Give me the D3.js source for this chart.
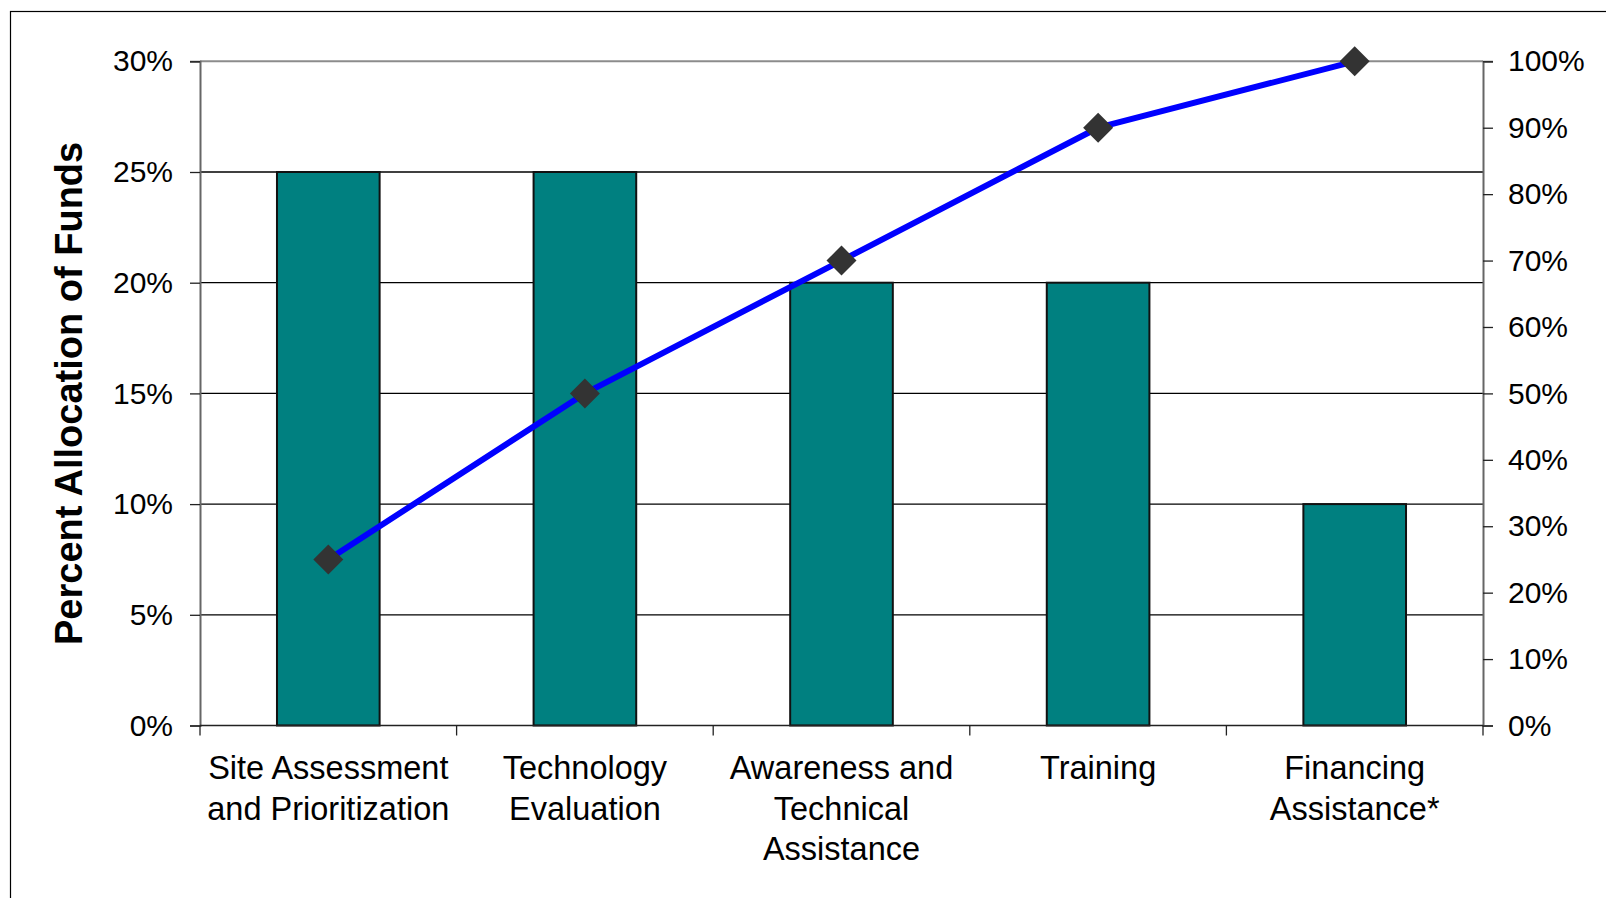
<!DOCTYPE html>
<html>
<head>
<meta charset="utf-8">
<script src="https://cdnjs.cloudflare.com/ajax/libs/d3/7.8.5/d3.min.js"></script>
<style>
	html, body { margin: 0; padding: 0; background: #fff; }
	svg { display: block; font-family: Arial, "Liberation Sans", sans-serif; }
</style>
</head>
<body>
<div id="chart"></div>
<script>
// chart data
var categories = [
	["Site Assessment", "and Prioritization"],
	["Technology", "Evaluation"],
	["Awareness and", "Technical", "Assistance"],
	["Training"],
	["Financing", "Assistance*"]
];
var allocation = [25, 25, 20, 20, 10];      // left axis, percent
var cumulative = [25, 50, 70, 90, 100];     // right axis, percent
var leftTicks = [0, 5, 10, 15, 20, 25, 30];
var rightTicks = [0, 10, 20, 30, 40, 50, 60, 70, 80, 90, 100];

var width = 1606, height = 898;
var plotLeft = 200, plotRight = 1483,
	plotTop = 61.3, plotBottom = 725.5;

var svg = d3.select("#chart").append("svg")
	.attr("width", width)
	.attr("height", height);

// outer chart frame (runs off right/bottom edge)
svg.append("rect")
	.attr("x", 10.5).attr("y", 11.5)
	.attr("width", width + 20).attr("height", height + 20)
	.attr("fill", "#fff")
	.attr("stroke", "#000")
	.attr("stroke-width", 1.2);

var idx = d3.range(categories.length);

var x = d3.scaleBand()
	.domain(idx)
	.range([plotLeft, plotRight])
	.paddingInner(0.6)
	.paddingOuter(0.3);

var yLeft = d3.scaleLinear().domain([0, 30]).range([plotBottom, plotTop]);
var yRight = d3.scaleLinear().domain([0, 100]).range([plotBottom, plotTop]);

// gridlines
svg.append("g")
	.selectAll("line")
	.data(leftTicks.filter(function(d) { return d > 0 && d < 30; }))
	.enter().append("line")
	.attr("x1", plotLeft).attr("x2", plotRight)
	.attr("y1", function(d) { return yLeft(d); })
	.attr("y2", function(d) { return yLeft(d); })
	.attr("stroke", "#000")
	.attr("stroke-width", 1.3);

// plot area border (top) in gray
svg.append("line")
	.attr("x1", plotLeft).attr("x2", plotRight)
	.attr("y1", plotTop).attr("y2", plotTop)
	.attr("stroke", "#8c8c8c")
	.attr("stroke-width", 2);

// bars
svg.append("g")
	.selectAll("rect")
	.data(allocation)
	.enter().append("rect")
	.attr("x", function(d, i) { return x(i); })
	.attr("y", function(d) { return yLeft(d); })
	.attr("width", x.bandwidth())
	.attr("height", function(d) { return plotBottom - yLeft(d); })
	.attr("fill", "#008080")
	.attr("stroke", "#111")
	.attr("stroke-width", 2);

// left axis
var leftAxis = d3.axisLeft(yLeft)
	.tickValues(leftTicks)
	.tickSize(10)
	.tickPadding(17)
	.tickFormat(function(d) { return d + "%"; });

var gl = svg.append("g")
	.attr("transform", "translate(" + plotLeft + ",0)")
	.call(leftAxis);
gl.select(".domain").attr("stroke", "#666").attr("stroke-width", 2);
gl.selectAll(".tick line").attr("stroke", "#222").attr("stroke-width", 1.3);
gl.selectAll(".tick text")
	.attr("font-size", 30)
	.attr("font-family", "Arial, 'Liberation Sans', sans-serif")
	.attr("fill", "#000");

// right axis
var rightAxis = d3.axisRight(yRight)
	.tickValues(rightTicks)
	.tickSize(10)
	.tickPadding(15)
	.tickFormat(function(d) { return d + "%"; });

var gr = svg.append("g")
	.attr("transform", "translate(" + plotRight + ",0)")
	.call(rightAxis);
gr.select(".domain").attr("stroke", "#666").attr("stroke-width", 2);
gr.selectAll(".tick line").attr("stroke", "#222").attr("stroke-width", 1.3);
gr.selectAll(".tick text")
	.attr("font-size", 30)
	.attr("font-family", "Arial, 'Liberation Sans', sans-serif")
	.attr("fill", "#000");

// bottom axis: line + ticks between categories
var xEdges = d3.scaleLinear().domain([0, categories.length]).range([plotLeft, plotRight]);
svg.append("line")
	.attr("x1", plotLeft).attr("x2", plotRight)
	.attr("y1", plotBottom).attr("y2", plotBottom)
	.attr("stroke", "#222")
	.attr("stroke-width", 1.6);
svg.append("g")
	.selectAll("line")
	.data(d3.range(categories.length + 1))
	.enter().append("line")
	.attr("x1", function(d) { return xEdges(d); })
	.attr("x2", function(d) { return xEdges(d); })
	.attr("y1", plotBottom).attr("y2", plotBottom + 10)
	.attr("stroke", "#222")
	.attr("stroke-width", 1.3);

// category labels
var labels = svg.append("g")
	.selectAll("text")
	.data(categories)
	.enter().append("text")
	.attr("text-anchor", "middle")
	.attr("font-size", 32.5)
	.attr("fill", "#000")
	.attr("transform", function(d, i) {
		return "translate(" + (x(i) + x.bandwidth() / 2) + ",779)";
	});
labels.selectAll("tspan")
	.data(function(d) { return d; })
	.enter().append("tspan")
	.attr("x", 0)
	.attr("y", function(d, j) { return j * 40.5; })
	.text(function(d) { return d; });

// cumulative line
var line = d3.line()
	.x(function(d, i) { return x(i) + x.bandwidth() / 2; })
	.y(function(d) { return yRight(d); });

svg.append("path")
	.datum(cumulative)
	.attr("d", line)
	.attr("fill", "none")
	.attr("stroke", "#0000ff")
	.attr("stroke-width", 6)
	.attr("stroke-linejoin", "round");

// diamond markers
var diamond = d3.symbol().type(d3.symbolSquare).size(450);
svg.append("g")
	.selectAll("path")
	.data(cumulative)
	.enter().append("path")
	.attr("d", diamond)
	.attr("transform", function(d, i) {
		return "translate(" + (x(i) + x.bandwidth() / 2) + "," + yRight(d) + ") rotate(45)";
	})
	.attr("fill", "#333333");

// y axis title
svg.append("text")
	.attr("transform", "translate(82," + ((plotTop + plotBottom) / 2 + 0) + ") rotate(-90)")
	.attr("text-anchor", "middle")
	.attr("font-size", 38)
	.attr("font-weight", "bold")
	.attr("fill", "#000")
	.text("Percent Allocation of Funds");
</script>
</body>
</html>
